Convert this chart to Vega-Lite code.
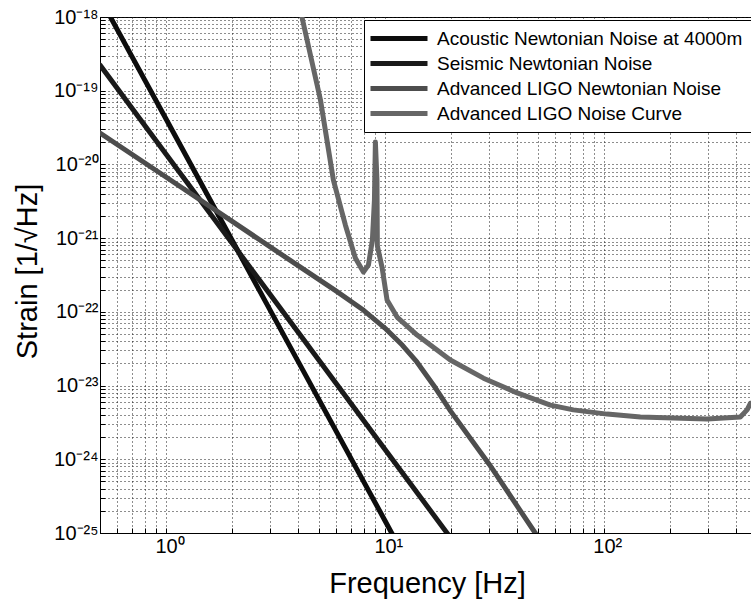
{
  "$schema": "https://vega.github.io/schema/vega-lite/v6.json",
  "width": 651,
  "height": 516,
  "autosize": {"type": "none"},
  "padding": {"left": 100, "top": 17, "right": 0, "bottom": 69},
  "background": "white",
  "config": {
    "view": {"stroke": "black", "strokeWidth": 1},
    "font": "Liberation Sans"
  },
  "data": {
    "values": [
      {"series": "Acoustic Newtonian Noise at 4000m", "f": 0.5, "strain": 1.82e-18},
      {"series": "Acoustic Newtonian Noise at 4000m", "f": 0.7, "strain": 2.90e-19},
      {"series": "Acoustic Newtonian Noise at 4000m", "f": 1, "strain": 4.16e-20},
      {"series": "Acoustic Newtonian Noise at 4000m", "f": 1.5, "strain": 4.56e-21},
      {"series": "Acoustic Newtonian Noise at 4000m", "f": 2, "strain": 9.51e-22},
      {"series": "Acoustic Newtonian Noise at 4000m", "f": 3, "strain": 1.04e-22},
      {"series": "Acoustic Newtonian Noise at 4000m", "f": 5, "strain": 6.44e-24},
      {"series": "Acoustic Newtonian Noise at 4000m", "f": 7, "strain": 1.03e-24},
      {"series": "Acoustic Newtonian Noise at 4000m", "f": 10, "strain": 1.48e-25},
      {"series": "Acoustic Newtonian Noise at 4000m", "f": 11, "strain": 8.77e-26},
      {"series": "Seismic Newtonian Noise", "f": 0.5, "strain": 2.23e-19},
      {"series": "Seismic Newtonian Noise", "f": 1, "strain": 1.39e-20},
      {"series": "Seismic Newtonian Noise", "f": 2, "strain": 8.65e-22},
      {"series": "Seismic Newtonian Noise", "f": 5, "strain": 2.20e-23},
      {"series": "Seismic Newtonian Noise", "f": 10, "strain": 1.37e-24},
      {"series": "Seismic Newtonian Noise", "f": 20, "strain": 8.53e-26},
      {"series": "Advanced LIGO Newtonian Noise", "f": 0.5, "strain": 2.67e-20},
      {"series": "Advanced LIGO Newtonian Noise", "f": 1, "strain": 6.76e-21},
      {"series": "Advanced LIGO Newtonian Noise", "f": 2, "strain": 1.70e-21},
      {"series": "Advanced LIGO Newtonian Noise", "f": 4, "strain": 4.27e-22},
      {"series": "Advanced LIGO Newtonian Noise", "f": 6, "strain": 1.91e-22},
      {"series": "Advanced LIGO Newtonian Noise", "f": 8, "strain": 1.05e-22},
      {"series": "Advanced LIGO Newtonian Noise", "f": 10, "strain": 6.03e-23},
      {"series": "Advanced LIGO Newtonian Noise", "f": 12, "strain": 3.55e-23},
      {"series": "Advanced LIGO Newtonian Noise", "f": 14, "strain": 2.09e-23},
      {"series": "Advanced LIGO Newtonian Noise", "f": 17, "strain": 9.33e-24},
      {"series": "Advanced LIGO Newtonian Noise", "f": 20, "strain": 4.47e-24},
      {"series": "Advanced LIGO Newtonian Noise", "f": 30, "strain": 8.51e-25},
      {"series": "Advanced LIGO Newtonian Noise", "f": 48.6, "strain": 1.0e-25},
      {"series": "Advanced LIGO Newtonian Noise", "f": 55, "strain": 5.9e-26},
      {"series": "Advanced LIGO Noise Curve", "f": 4.0, "strain": 1.78e-18},
      {"series": "Advanced LIGO Noise Curve", "f": 4.19, "strain": 9.7e-19},
      {"series": "Advanced LIGO Noise Curve", "f": 5.08, "strain": 7.48e-20},
      {"series": "Advanced LIGO Noise Curve", "f": 5.82, "strain": 6.14e-21},
      {"series": "Advanced LIGO Noise Curve", "f": 6.6, "strain": 1.51e-21},
      {"series": "Advanced LIGO Noise Curve", "f": 7.33, "strain": 5.37e-22},
      {"series": "Advanced LIGO Noise Curve", "f": 7.98, "strain": 3.47e-22},
      {"series": "Advanced LIGO Noise Curve", "f": 8.41, "strain": 4.31e-22},
      {"series": "Advanced LIGO Noise Curve", "f": 8.77, "strain": 9.42e-22},
      {"series": "Advanced LIGO Noise Curve", "f": 8.96, "strain": 3.29e-21},
      {"series": "Advanced LIGO Noise Curve", "f": 9.05, "strain": 2.01e-20},
      {"series": "Advanced LIGO Noise Curve", "f": 9.2, "strain": 6.17e-21},
      {"series": "Advanced LIGO Noise Curve", "f": 9.24, "strain": 7.82e-22},
      {"series": "Advanced LIGO Noise Curve", "f": 9.7, "strain": 4.07e-22},
      {"series": "Advanced LIGO Noise Curve", "f": 10.23, "strain": 1.45e-22},
      {"series": "Advanced LIGO Noise Curve", "f": 11.37, "strain": 8.51e-23},
      {"series": "Advanced LIGO Noise Curve", "f": 14.03, "strain": 4.84e-23},
      {"series": "Advanced LIGO Noise Curve", "f": 19.9, "strain": 2.22e-23},
      {"series": "Advanced LIGO Noise Curve", "f": 28.2, "strain": 1.26e-23},
      {"series": "Advanced LIGO Noise Curve", "f": 40.2, "strain": 7.94e-24},
      {"series": "Advanced LIGO Noise Curve", "f": 57.0, "strain": 5.43e-24},
      {"series": "Advanced LIGO Noise Curve", "f": 72.6, "strain": 4.68e-24},
      {"series": "Advanced LIGO Noise Curve", "f": 103.5, "strain": 4.10e-24},
      {"series": "Advanced LIGO Noise Curve", "f": 146.9, "strain": 3.74e-24},
      {"series": "Advanced LIGO Noise Curve", "f": 208, "strain": 3.63e-24},
      {"series": "Advanced LIGO Noise Curve", "f": 296, "strain": 3.51e-24},
      {"series": "Advanced LIGO Noise Curve", "f": 420, "strain": 3.74e-24},
      {"series": "Advanced LIGO Noise Curve", "f": 451, "strain": 4.68e-24},
      {"series": "Advanced LIGO Noise Curve", "f": 467, "strain": 5.75e-24}
    ]
  },
  "mark": {"type": "line", "clip": true, "strokeWidth": 5, "strokeCap": "round", "strokeJoin": "round"},
  "encoding": {
    "x": {
      "field": "f",
      "type": "quantitative",
      "scale": {"type": "log", "domain": [0.5, 470], "nice": false},
      "axis": {
        "values": [0.5, 0.6, 0.7, 0.8, 0.9, 1, 2, 3, 4, 5, 6, 7, 8, 9, 10, 20, 30, 40, 50, 60, 70, 80, 90, 100, 200, 300, 400],
        "labelExpr": "abs(log(datum.value)/LN10 - round(log(datum.value)/LN10)) < 0.01 ? '10' + (round(log(datum.value)/LN10) < 0 ? '⁻' : '') + (abs(round(log(datum.value)/LN10)) >= 10 ? ['⁰','¹','²','³','⁴','⁵','⁶','⁷','⁸','⁹'][floor(abs(round(log(datum.value)/LN10))/10)] : '') + ['⁰','¹','²','³','⁴','⁵','⁶','⁷','⁸','⁹'][abs(round(log(datum.value)/LN10)) % 10] : ''",
        "labelOverlap": false,
        "labelFlush": false,
        "labelFont": "Liberation Sans",
        "labelFontSize": 20,
        "labelColor": "black",
        "labelAlign": "left",
        "labelOffset": -11,
        "labelPadding": 8,
        "grid": true,
        "gridColor": "#1a1a1a",
        "gridDash": [1, 3],
        "gridWidth": 1,
        "domainColor": "black",
        "ticks": true,
        "tickSize": -5,
        "tickColor": "black",
        "title": "Frequency [Hz]",
        "titleFont": "Liberation Sans",
        "titleFontSize": 29,
        "titleFontWeight": "normal",
        "titleColor": "black",
        "titleAlign": "center",
        "titleBaseline": "alphabetic",
        "titleX": 327,
        "titleY": 59
      }
    },
    "y": {
      "field": "strain",
      "type": "quantitative",
      "scale": {"type": "log", "domain": [1e-25, 1e-18], "nice": false},
      "axis": {
        "values": [1e-25, 2e-25, 3e-25, 4e-25, 5e-25, 6e-25, 7e-25, 8e-25, 9e-25, 1e-24, 2e-24, 3e-24, 4e-24, 5e-24, 6e-24, 7e-24, 8e-24, 9e-24, 1e-23, 2e-23, 3e-23, 4e-23, 5e-23, 6e-23, 7e-23, 8e-23, 9e-23, 1e-22, 2e-22, 3e-22, 4e-22, 5e-22, 6e-22, 7e-22, 8e-22, 9e-22, 1e-21, 2e-21, 3e-21, 4e-21, 5e-21, 6e-21, 7e-21, 8e-21, 9e-21, 1e-20, 2e-20, 3e-20, 4e-20, 5e-20, 6e-20, 7e-20, 8e-20, 9e-20, 1e-19, 2e-19, 3e-19, 4e-19, 5e-19, 6e-19, 7e-19, 8e-19, 9e-19, 1e-18],
        "labelExpr": "abs(log(datum.value)/LN10 - round(log(datum.value)/LN10)) < 0.01 ? '10' + (round(log(datum.value)/LN10) < 0 ? '⁻' : '') + (abs(round(log(datum.value)/LN10)) >= 10 ? ['⁰','¹','²','³','⁴','⁵','⁶','⁷','⁸','⁹'][floor(abs(round(log(datum.value)/LN10))/10)] : '') + ['⁰','¹','²','³','⁴','⁵','⁶','⁷','⁸','⁹'][abs(round(log(datum.value)/LN10)) % 10] : ''",
        "labelOverlap": false,
        "labelFlush": false,
        "labelFont": "Liberation Sans",
        "labelFontSize": 20,
        "labelColor": "black",
        "labelPadding": 7,
        "grid": true,
        "gridColor": "#1a1a1a",
        "gridDash": [1, 3],
        "gridWidth": 1,
        "domainColor": "black",
        "ticks": true,
        "tickSize": -5,
        "tickColor": "black",
        "title": "Strain [1/√Hz]",
        "titleFont": "Liberation Sans",
        "titleFontSize": 29,
        "titleFontWeight": "normal",
        "titleColor": "black",
        "titleAlign": "center",
        "titleBaseline": "alphabetic",
        "titleAngle": -90,
        "titleX": -64,
        "titleY": 254
      }
    },
    "color": {
      "field": "series",
      "type": "nominal",
      "scale": {
        "domain": ["Acoustic Newtonian Noise at 4000m", "Seismic Newtonian Noise", "Advanced LIGO Newtonian Noise", "Advanced LIGO Noise Curve"],
        "range": ["#0d0d0d", "#1a1a1a", "#4d4d4d", "#666666"]
      },
      "legend": {
        "orient": "none",
        "legendX": 264,
        "legendY": 3,
        "title": null,
        "fillColor": "white",
        "strokeColor": "black",
        "padding": 8,
        "symbolType": "M-1.5,0H5.625",
        "symbolSize": 256,
        "symbolStrokeWidth": 5,
        "labelFont": "Liberation Sans",
        "labelFontSize": 19,
        "labelColor": "black",
        "labelLimit": 500,
        "labelOffset": 44,
        "rowPadding": 4
      }
    }
  }
}
